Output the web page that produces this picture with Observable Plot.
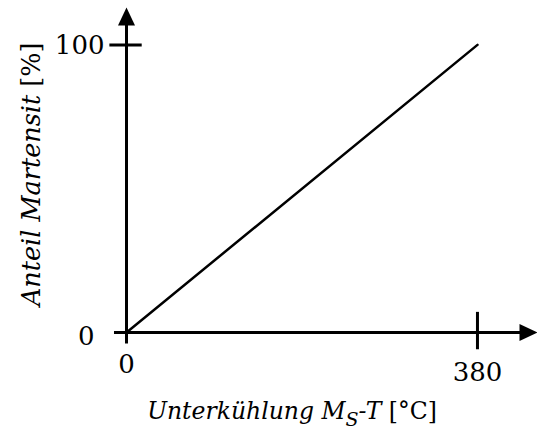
<!DOCTYPE html>
<html><head><meta charset="utf-8">
<script src="https://cdn.jsdelivr.net/npm/d3@7"></script>
<script src="https://cdn.jsdelivr.net/npm/@observablehq/plot@0.6"></script>
<style>body{margin:0;background:#fff}</style>
</head><body><div id="chart"></div>
<script>
// Data
const xValues = [0, 380];        // Unterkühlung Ms-T [°C]
const yValues = [0, 100];        // Anteil Martensit [%]
const xTicks = [0, 380];
const yTicks = [0, 100];
const xLabel = "Unterkühlung M_S-T [°C]";
const yLabel = "Anteil Martensit [%]";

const xMax = 445, yMax = 113;
const linePts = xValues.map((x, i) => ({x, y: yValues[i]}));
const font = "DejaVu Serif";
const tickSize = 26, xLabelSize = 23.5, yLabelSize = 25.5;

const upHead = {draw(c){ c.moveTo(0,0); c.lineTo(8.5,18); c.lineTo(-8.5,18); c.closePath(); }};
const rightHead = {draw(c){ c.moveTo(0,0); c.lineTo(-18,8.5); c.lineTo(-18,-8.5); c.closePath(); }};

const plot = Plot.plot({
  width: 537, height: 434,
  marginLeft: 0, marginRight: 0, marginTop: 0, marginBottom: 0,
  x: {domain: [0, xMax], range: [126, 537], axis: null},
  y: {domain: [0, yMax], range: [332, 7], axis: null},
  style: {fontFamily: font, color: "#000", background: "#fff"},
  marks: [
    Plot.ruleX([0], {y1: -4, y2: yMax - 5, stroke: "#000", strokeWidth: 3}),
    Plot.ruleY([0], {x1: -13, x2: xMax - 15, stroke: "#000", strokeWidth: 3}),
    Plot.dot([{x: 0, y: yMax}], {x: "x", y: "y", symbol: upHead, fill: "#000", stroke: null, r: 5}),
    Plot.dot([{x: xMax, y: 0}], {x: "x", y: "y", symbol: rightHead, fill: "#000", stroke: null, r: 5}),
    Plot.ruleY([yTicks[1]], {x1: -18, x2: 17, stroke: "#000", strokeWidth: 3}),
    Plot.ruleX([xTicks[1]], {y1: -6, y2: 7, stroke: "#000", strokeWidth: 3}),
    Plot.line(linePts, {x: "x", y: "y", stroke: "#000", strokeWidth: 2.5}),
    // y tick labels
    Plot.text([yTicks[1]], {x: 0, y: d => d, text: d => String(d), textAnchor: "end", dx: -22, dy: 1, fontSize: tickSize, fontFamily: font}),
    Plot.text([yTicks[0]], {x: 0, y: d => d, text: d => String(d), textAnchor: "end", dx: -32, dy: 4, fontSize: tickSize, fontFamily: font}),
    // x tick labels
    Plot.text([xTicks[0]], {x: d => d, y: 0, text: d => String(d), dy: 32, fontSize: tickSize, fontFamily: font}),
    Plot.text([xTicks[1]], {x: d => d, y: 0, text: d => String(d), dy: 40, fontSize: tickSize, fontFamily: font}),
    // axis labels
    Plot.text([xLabel], {frameAnchor: "bottom", text: d => d, dx: 23, dy: -16, textAnchor: "middle", fontSize: xLabelSize, fontStyle: "italic", fontFamily: font}),
    Plot.text([yLabel], {frameAnchor: "left", y: 55, text: d => d, dx: 39, rotate: -90, textAnchor: "middle", lineAnchor: "bottom", fontSize: yLabelSize, fontStyle: "italic", fontFamily: font})
  ]
});

// rich text: subscript and upright units
d3.select(plot).selectAll("text").each(function() {
  const t = this.textContent;
  const sel = d3.select(this);
  if (t === xLabel) {
    sel.text(null);
    sel.append("tspan").text("Unterkühlung M");
    sel.append("tspan").attr("dy", 7).attr("font-size", 19).text("S");
    sel.append("tspan").attr("dy", -7).text("-T");
    sel.append("tspan").attr("font-style", "normal").text(" [°C]");
  } else if (t === yLabel) {
    sel.text(null);
    sel.append("tspan").text("Anteil Martensit");
    sel.append("tspan").attr("font-style", "normal").text(" [%]");
  }
});
document.getElementById("chart").append(plot);
</script></body></html>
